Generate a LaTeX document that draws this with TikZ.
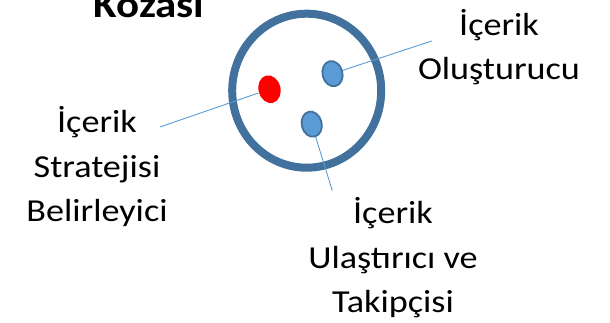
\documentclass[tikz,border=0pt]{standalone}
\usepackage{fontspec}
\setmainfont[FakeStretch=1.13]{Carlito}
\usetikzlibrary{shapes.geometric}
\definecolor{ringblue}{RGB}{65,113,156}
\definecolor{spotblue}{RGB}{91,155,213}
\tikzset{
  spot/.style={ellipse,inner sep=0pt,minimum width=20pt,minimum height=25.5pt,rotate=14,draw=ringblue,fill=spotblue,line width=1.8pt},
  lbl/.style={align=center,inner sep=0pt,anchor=base,font=\fontsize{32}{44.5}\selectfont},
  lead/.style={spotblue,line width=0.9pt}
}
\begin{document}
\begin{tikzpicture}[x=1pt,y=1pt]
\useasboundingbox (0,0) rectangle (610,323);
\node[ellipse,draw=ringblue,line width=8pt,minimum width=149pt,minimum height=154pt] (koza) at (306.7,232.3) {};
\node[spot,draw=none,fill=red,minimum width=22pt,minimum height=28pt] (strateji) at (269.5,233.8) {};
\node[spot] (olusturucu) at (332.5,249.3) {};
\node[spot] (ulastirici) at (311.7,198.8) {};
\coordinate (s) at (160,196);
\coordinate (o) at (431.7,282);
\coordinate (u) at (332.3,132.3);
\draw[lead] (s) -- (strateji);
\draw[lead] (o) -- (olusturucu);
\draw[lead] (u) -- (ulastirici);
\node[lbl] (t1) at (97,101) {İçerik\\Stratejisi\\Belirleyici};
\node[lbl] (t2) at (499,243) {İçerik\\Oluşturucu};
\node[lbl] (t3) at (393,10) {İçerik\\Ulaştırıcı ve\\Takipçisi};
\node[lbl,font=\fontsize{38}{44.5}\selectfont\bfseries] (baslik) at (149,305.7) {Kozası};
\end{tikzpicture}
\end{document}
